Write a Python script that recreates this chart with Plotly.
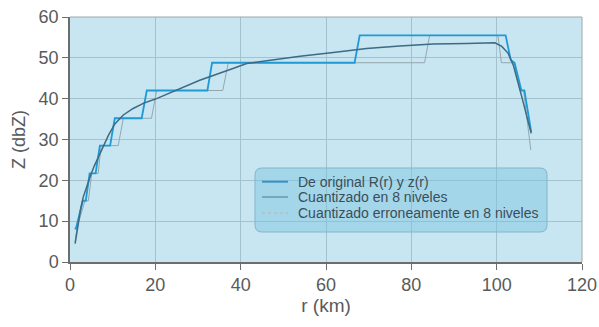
import plotly.graph_objects as go

# Original smooth curve R(r), z(r)
r_orig = [1.2, 1.6, 2.0, 2.5, 3.1, 3.9, 4.7, 5.6, 6.6, 7.8, 9.0, 10.5, 12.5, 14.8, 17.3,
          20.0, 24.4, 30.4, 38.2, 41.4, 46.1, 53.9, 61.7, 69.5, 77.3, 85.1, 92.9, 99.6, 101.2,
          102.7, 103.9, 105.0, 106.2, 107.4, 108.1]
z_orig = [4.5, 7.5, 10.2, 13.0, 15.9, 18.5, 20.8, 23.3, 25.7, 28.5, 31.0, 33.8, 36.0, 37.6, 38.9,
          39.9, 41.9, 44.5, 47.4, 48.6, 49.3, 50.4, 51.3, 52.3, 52.9, 53.4, 53.5, 53.7, 52.8,
          51.1, 48.2, 44.1, 39.2, 34.3, 31.5]

# Quantized in 8 levels
r_q8 = [1.1, 1.4, 3.0, 3.7, 4.6, 6.0, 7.0, 9.4, 10.5, 16.8, 18.0, 32.2, 33.3, 66.7, 67.9,
        102.1, 103.3, 104.2, 105.8, 106.5, 108.1]
z_q8 = [8.2, 8.2, 15.0, 15.0, 21.7, 21.7, 28.5, 28.5, 35.2, 35.2, 42.0, 42.0, 48.8, 48.8, 55.5,
        55.5, 49.5, 48.8, 42.0, 42.0, 31.8]

# Erroneously quantized in 8 levels
r_err = [1.2, 1.6, 3.5, 4.3, 5.1, 6.6, 7.3, 11.3, 12.5, 19.1, 20.3, 35.8, 37.1, 83.1, 84.3,
         100.3, 101.1, 103.9, 105.5, 106.3, 108.0]
z_err = [5.0, 8.2, 15.0, 15.0, 21.7, 21.7, 28.5, 28.5, 35.2, 35.2, 42.0, 42.0, 48.8, 48.8, 55.5,
         55.5, 48.8, 48.8, 42.0, 42.0, 27.4]

x_ticks = [0, 20, 40, 60, 80, 100, 120]
y_ticks = [0, 10, 20, 30, 40, 50, 60]

names = ["De original R(r) y z(r)", "Cuantizado en 8 niveles",
         "Cuantizado erroneamente en 8 niveles"]

BLUE = "#1f9ad6"
DARK = "#3d6a84"
GRAY = "#97a6ad"
FONT = "Liberation Sans, Arial, sans-serif"

W, H = 599, 327
ML, MR, MT, MB = 70, 17, 17, 65
PW, PH = W - ML - MR, H - MT - MB


def px(x):
    return (x - ML) / PW


def py(y):
    return (H - MB - y) / PH


fig = go.Figure()
fig.add_trace(go.Scatter(x=r_err, y=z_err, mode="lines", name=names[2], showlegend=False,
                         line=dict(color=GRAY, width=1)))
fig.add_trace(go.Scatter(x=r_q8, y=z_q8, mode="lines", name=names[0], showlegend=False,
                         line=dict(color=BLUE, width=1.8)))
fig.add_trace(go.Scatter(x=r_orig, y=z_orig, mode="lines", name=names[1], showlegend=False,
                         line=dict(color=DARK, width=1.5)))

axis_common = dict(
    automargin=False,
    showgrid=True, gridcolor="#a3c2ce", gridwidth=1,
    showline=True, linecolor="#6d6d6d", linewidth=1.5, mirror=False,
    ticks="outside", ticklen=6, tickcolor="#6d6d6d", tickwidth=1.2,
    tickfont=dict(family=FONT, size=18, color="#5a5a5a"),
    zeroline=False,
)

# custom legend (box, samples, labels)
leg_rows = [181.7, 197.0, 213.0]
leg_colors = ["#3a92c4", "#4d7890", "#b3c3cb"]
leg_widths = [2, 1, 2]
leg_dash = ["solid", "solid", "dot"]

shapes = [
    dict(type="line", xref="paper", yref="paper", x0=0, x1=1, y0=1, y1=1,
         line=dict(color="#a0a6aa", width=1)),
    dict(type="line", xref="paper", yref="paper", x0=1, x1=1, y0=0, y1=1,
         line=dict(color="#a0a6aa", width=1)),
]
x0b, x1b, y0b, y1b, rr = 255, 547, 168, 232, 7
path = (f"M {px(x0b + rr)} {py(y0b)} L {px(x1b - rr)} {py(y0b)} "
        f"Q {px(x1b)} {py(y0b)} {px(x1b)} {py(y0b + rr)} L {px(x1b)} {py(y1b - rr)} "
        f"Q {px(x1b)} {py(y1b)} {px(x1b - rr)} {py(y1b)} L {px(x0b + rr)} {py(y1b)} "
        f"Q {px(x0b)} {py(y1b)} {px(x0b)} {py(y1b - rr)} L {px(x0b)} {py(y0b + rr)} "
        f"Q {px(x0b)} {py(y0b)} {px(x0b + rr)} {py(y0b)} Z")
shapes.append(dict(type="path", xref="paper", yref="paper", layer="above", path=path,
                   fillcolor="rgba(120,195,225,0.45)", line=dict(color="#86b4c8", width=1)))
annotations = []
for yrow, c, w, d, name in zip(leg_rows, leg_colors, leg_widths, leg_dash, names):
    shapes.append(dict(type="line", xref="paper", yref="paper", layer="above",
                       x0=px(262), x1=px(288), y0=py(yrow), y1=py(yrow),
                       line=dict(color=c, width=w, dash=d)))
    annotations.append(dict(xref="paper", yref="paper", x=px(296), y=py(yrow),
                            xanchor="left", yanchor="middle", showarrow=False, text=name,
                            font=dict(family=FONT, size=14, color="#3d4d58")))

fig.update_layout(
    width=W, height=H,
    margin=dict(l=ML, r=MR, t=MT, b=MB),
    paper_bgcolor="white", plot_bgcolor="#c7e6f1",
    font=dict(family=FONT, color="#555555"),
    showlegend=False,
    xaxis=dict(range=[0, 120], tickvals=x_ticks, ticktext=[str(v) for v in x_ticks],
               title=dict(text="r (km)", font=dict(size=19, color="#5a5a5a"), standoff=4),
               **axis_common),
    yaxis=dict(range=[0, 60], tickvals=y_ticks, ticktext=[str(v) for v in y_ticks],
               title=dict(text="Z (dbZ)", font=dict(size=18, color="#5a5a5a"), standoff=8),
               **axis_common),
    shapes=shapes,
    annotations=annotations,
)

fig.write_html("out.html")
